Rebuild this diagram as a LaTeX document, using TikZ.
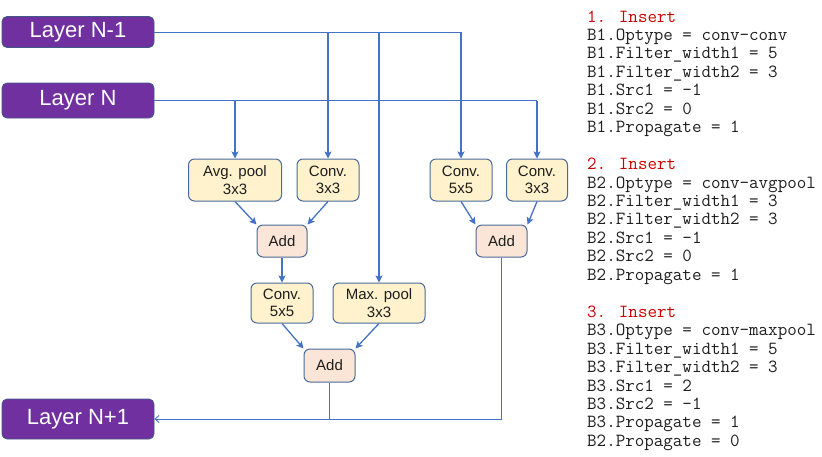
\documentclass[tikz,border=0pt]{standalone}
\usepackage{fontspec}
\setmainfont{Liberation Sans}
\usetikzlibrary{arrows.meta}
\definecolor{lpurple}{HTML}{7030A0}
\definecolor{lborder}{HTML}{3F5A86}
\definecolor{opfill}{HTML}{FFF2CC}
\definecolor{addfill}{HTML}{FBE5D6}
\definecolor{opborder}{HTML}{4A6A9C}
\definecolor{arrblue}{HTML}{4472C4}
\definecolor{insred}{HTML}{CC0000}
\definecolor{codegray}{HTML}{1E1E1E}
\tikzset{
  layerbox/.style={rounded corners=5pt, fill=lpurple, draw=lborder, line width=0.8pt,
    minimum width=152pt, inner sep=0pt, text=white, font=\fontsize{22}{26}\selectfont},
  opbox/.style={rounded corners=6pt, fill=opfill, draw=opborder, line width=1pt,
    minimum height=42pt, inner sep=0pt, align=center, text=codegray,
    font=\fontsize{15}{17.5}\selectfont},
  addbox/.style={opbox, fill=addfill, minimum height=32pt},
  arr/.style={draw=arrblue, line width=1.3pt, -{Stealth[length=7pt,width=7pt,inset=1.5pt]}},
  thinline/.style={draw=arrblue, line width=0.9pt},
  outarr/.style={thinline, -{Straight Barb[length=4pt,width=7pt]}},
  codeline/.style={anchor=base west, inner sep=0pt, text=codegray,
    font=\ttfamily\fontsize{18.5}{20}\selectfont},
}
\begin{document}
\begin{tikzpicture}[x=1pt,y=-1pt]
\useasboundingbox (0,0) rectangle (822,456);

% layers
\node[layerbox, minimum height=31pt] (ln1) at (78,32) {Layer N-1};
\node[layerbox, minimum height=35pt] (ln) at (78,100.5) {Layer N};
\node[layerbox, minimum height=40pt] (ln2) at (78,419) {Layer N+1};

% operations
\node[opbox, minimum width=93pt] (ap) at (235,180) {Avg. pool\\3x3};
\node[opbox, minimum width=62pt] (c3l) at (328,180) {Conv.\\3x3};
\node[opbox, minimum width=62pt] (c5r) at (461,180) {Conv.\\5x5};
\node[opbox, minimum width=61pt] (c3r) at (537,180) {Conv.\\3x3};
\node[addbox, minimum width=50pt] (add1) at (282,241) {Add};
\node[addbox, minimum width=51pt] (add2) at (501.5,241) {Add};
\node[opbox, minimum width=62pt, minimum height=40pt] (c5m) at (282,303) {Conv.\\5x5};
\node[opbox, minimum width=92pt, minimum height=40pt] (mp) at (379,303) {Max. pool\\3x3};
\node[addbox, minimum width=51pt, minimum height=33pt] (add3) at (329.5,365.5) {Add};

% connectors from layers
\draw[thinline] (ln1.east) -- (c5r.north |- ln1.east);
\draw[arr] (c5r.north |- ln1.east) -- (c5r.north);
\draw[arr] (c3l.north |- ln1.east) -- (c3l.north);
\draw[arr] (mp.north |- ln1.east) -- (mp.north);
\draw[thinline] (ln.east) -- (c3r.north |- ln.east);
\draw[arr] (c3r.north |- ln.east) -- (c3r.north);
\draw[arr] (ap.north |- ln.east) -- (ap.north);

% internal connectors
\draw[arr] (ap.south) -- (add1.north west);
\draw[arr] (c3l.south) -- (add1.north east);
\draw[arr] (c5r.south) -- (add2.north west);
\draw[arr] (c3r.south) -- (add2.north east);
\draw[arr] (add1.south) -- (c5m.north);
\draw[arr] (c5m.south) -- (add3.north west);
\draw[arr] (mp.south) -- (add3.north east);

% outputs
\draw[outarr] (add2.south) |- (ln2.east);
\draw[thinline] (add3.south) -- (add3.south |- ln2.east);

% code text
\node[codeline, text=insred] (t1) at (587,22) {1. Insert};
\node[codeline] (t2) at (587,40.45) {B1.Optype = conv-conv};
\node[codeline] (t3) at (587,58.9) {B1.Filter\_width1 = 5};
\node[codeline] (t4) at (587,77.35) {B1.Filter\_width2 = 3};
\node[codeline] (t5) at (587,95.8) {B1.Src1 = -1};
\node[codeline] (t6) at (587,114.25) {B1.Src2 = 0};
\node[codeline] (t7) at (587,132.7) {B1.Propagate = 1};
\node[codeline, text=insred] (t9) at (587,169.6) {2. Insert};
\node[codeline] (t10) at (587,188.05) {B2.Optype = conv-avgpool};
\node[codeline] (t11) at (587,206.5) {B2.Filter\_width1 = 3};
\node[codeline] (t12) at (587,224.95) {B2.Filter\_width2 = 3};
\node[codeline] (t13) at (587,243.4) {B2.Src1 = -1};
\node[codeline] (t14) at (587,261.85) {B2.Src2 = 0};
\node[codeline] (t15) at (587,280.3) {B2.Propagate = 1};
\node[codeline, text=insred] (t17) at (587,317.2) {3. Insert};
\node[codeline] (t18) at (587,335.65) {B3.Optype = conv-maxpool};
\node[codeline] (t19) at (587,354.1) {B3.Filter\_width1 = 5};
\node[codeline] (t20) at (587,372.55) {B3.Filter\_width2 = 3};
\node[codeline] (t21) at (587,391) {B3.Src1 = 2};
\node[codeline] (t22) at (587,409.45) {B3.Src2 = -1};
\node[codeline] (t23) at (587,427.9) {B3.Propagate = 1};
\node[codeline] (t24) at (587,446.35) {B2.Propagate = 0};
\end{tikzpicture}
\end{document}
